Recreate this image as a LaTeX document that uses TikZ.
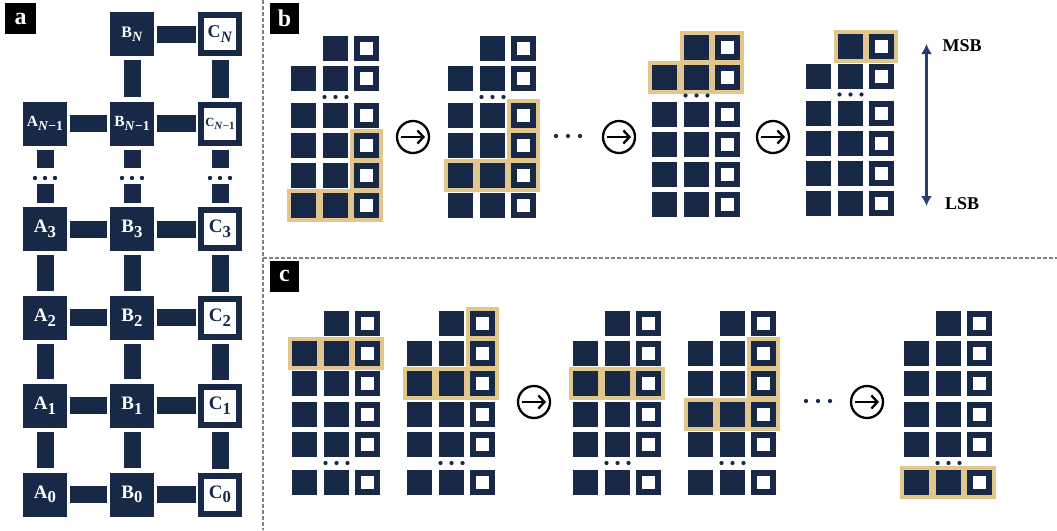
\documentclass[tikz,border=0pt]{standalone}
\usepackage{fontspec}
\setmainfont{Liberation Serif}
\usepackage{graphicx}
\usetikzlibrary{arrows.meta,fit,backgrounds}
\definecolor{navy}{RGB}{24,41,72}
\definecolor{goldH}{RGB}{224,198,140}
\definecolor{arrowB}{RGB}{38,62,108}
\definecolor{sepG}{RGB}{130,130,130}

% subscripts in panel a
\newcommand{\idx}[1]{\raisebox{-0.24em}{\scalebox{0.88}{#1}}}

% one register: cells #1-row-col, column 1 left edge #2, row 1 top #3
\newcommand{\regblock}[5]{%
  \foreach \r/\dy in #4 {
    \ifnum\r>1 \node[bitcell] (#1-\r-1) at (#2+12.5,#3+\dy+12.5) {};\fi
    \node[bitcell] (#1-\r-2) at (#2+44.5,#3+\dy+12.5) {};
    \node[carrycell] (#1-\r-3) at (#2+75.5,#3+\dy+12.5) {};
  }
  \foreach \k in {-11,0,11} \fill[navy] (#2+44.5+\k,#3+#5) circle (2.1pt);
}
\def\rowsb{1/0,2/30,3/67,4/97,5/127,6/157}
\def\rowsc{1/0,2/30,3/60,4/91,5/121,6/159}

\begin{document}
\begin{tikzpicture}[x=1pt, y=-1pt, >={Latex[length=10pt,width=11pt]}]
  \useasboundingbox (0,0) rectangle (1057,530);
  \tikzstyle{tag}=[fill=black, text=white, inner sep=0pt, minimum height=31pt, minimum width=29pt, font=\bfseries\fontsize{24}{24}\selectfont]
  \tikzstyle{qbox}=[fill=navy, text=white, minimum size=44pt, inner sep=0pt, font=\bfseries\fontsize{19}{19}\selectfont]
  \tikzstyle{cbox}=[draw=navy, fill=white, text=navy, line width=6pt, minimum size=38pt, inner sep=0pt, outer sep=3pt, font=\bfseries\fontsize{19}{19}\selectfont]
  \tikzstyle{hlink}=[draw=navy, line width=17pt, shorten <=2.5pt, shorten >=2.5pt]
  \tikzstyle{vlink}=[draw=navy, line width=17pt, shorten <=4pt, shorten >=4pt]
  \tikzstyle{bitcell}=[fill=navy, minimum size=25pt, inner sep=0pt, outer sep=0pt]
  \tikzstyle{carrycell}=[draw=navy, fill=white, line width=6pt, minimum size=19pt, inner sep=0pt, outer sep=3pt]
  \tikzstyle{hl}=[fill=goldH, inner sep=4pt]
  \tikzstyle{nextstep}=[circle, draw=black, line width=2.3pt, minimum size=32pt, inner sep=0pt,
    path picture={\draw[line width=2.3pt, -{Straight Barb[length=6pt,width=13pt]}]
      ([xshift=-12pt]path picture bounding box.center) -- ([xshift=12pt]path picture bounding box.center);}]
  \tikzstyle{sepline}=[draw=sepG, line width=1.3pt, dash pattern=on 4pt off 2pt]
  \tikzstyle{sb}=[font=\bfseries\fontsize{18}{18}\selectfont, inner sep=0pt]

  % separators
  \draw[sepline] (263,0) -- (263,530);
  \draw[sepline] (263,258) -- (1057,258);

  % panel a
  \node[tag, minimum width=31pt] (taga) at (20.5,18.5) {a};
  \node[qbox, font=\bfseries\fontsize{16}{16}\selectfont] (BN) at (132,34) {B\idx{\textit{N}}};
  \node[cbox, font=\bfseries\fontsize{18}{18}\selectfont] (CN) at (220,34) {C\idx{\textit{N}}};
  \node[qbox, font=\bfseries\fontsize{15.5}{16}\selectfont] (AN1) at (45,123.5) {A\idx{\textit{N}−1}};
  \node[qbox, font=\bfseries\fontsize{15.5}{16}\selectfont] (BN1) at (132,123.5) {B\idx{\textit{N}−1}};
  \node[cbox, font=\bfseries\fontsize{12.5}{13}\selectfont] (CN1) at (220,123.5) {C\idx{\textit{N}−1}};
  \draw[hlink] (BN) -- (CN);
  \draw[hlink] (AN1) -- (BN1);
  \draw[hlink] (BN1) -- (CN1);
  \draw[vlink] (BN) -- (BN1);
  \draw[vlink] (CN) -- (CN1);
  \foreach \i/\y in {3/229,2/317.5,1/405.5,0/494.5} {
    \node[qbox] (A\i) at (45,\y) {A\idx{\i}};
    \node[qbox] (B\i) at (132,\y) {B\idx{\i}};
    \node[cbox] (C\i) at (220,\y) {C\idx{\i}};
    \draw[hlink] (A\i) -- (B\i);
    \draw[hlink] (B\i) -- (C\i);
  }
  \foreach \col in {A,B,C} {
    \draw[vlink] (\col3) -- (\col2);
    \draw[vlink] (\col2) -- (\col1);
    \draw[vlink] (\col1) -- (\col0);
  }
  \foreach \col/\x in {A/45,B/132,C/220} {
    \coordinate (d\col) at (\x,178);
    \draw[vlink, shorten >=10pt] (\col N1) -- (d\col);
    \draw[vlink, shorten <=6pt] (d\col) -- (\col3);
    \foreach \k in {-10,0,10} \fill[navy] (\x+\k,178) circle (2.2pt);
  }

  % panel b
  \node[tag] (tagb) at (284.5,18.5) {b};
  \regblock{b1}{291}{36}{\rowsb}{61}
  \regblock{b2}{448}{36}{\rowsb}{61}
  \regblock{b3}{652}{34.5}{\rowsb}{61}
  \regblock{b4}{806}{33.5}{\rowsb}{61}
  \node[nextstep] (sb1) at (413,137) {};
  \node[nextstep] (sb2) at (619,137) {};
  \node[nextstep] (sb3) at (773,137) {};
  \foreach \k in {556,568,580} \fill[navy] (\k,136) circle (2.1pt);
  \node[sb] (msb) at (962,46) {MSB};
  \node[sb] (lsb) at (962,204) {LSB};
  \coordinate (msbtip) at (926.5,44);
  \coordinate (lsbtip) at (926.5,206);
  \draw[<->, arrowB, line width=2.8pt] (lsbtip) -- (msbtip);

  % panel c
  \node[tag] (tagc) at (284.5,276) {c};
  \regblock{c1}{292}{311}{\rowsc}{152}
  \regblock{c2}{407}{311}{\rowsc}{152}
  \regblock{c3}{573}{311}{\rowsc}{152}
  \regblock{c4}{688}{311}{\rowsc}{152}
  \regblock{c5}{904}{311}{\rowsc}{152}
  \node[nextstep] (sc1) at (534,402) {};
  \node[nextstep] (sc2) at (867,402) {};
  \foreach \k in {806,818,830} \fill[navy] (\k,401) circle (2.1pt);

  % highlighted bits
  \begin{scope}[on background layer]
    \node[hl, fit=(b1-4-3)(b1-6-3)] (hb1a) {};
    \node[hl, fit=(b1-6-1)(b1-6-3)] (hb1b) {};
    \node[hl, fit=(b2-3-3)(b2-5-3)] (hb2a) {};
    \node[hl, fit=(b2-5-1)(b2-5-3)] (hb2b) {};
    \node[hl, fit=(b3-1-2)(b3-2-3)] (hb3a) {};
    \node[hl, fit=(b3-2-1)(b3-2-3)] (hb3b) {};
    \node[hl, fit=(b4-1-2)(b4-1-3)] (hb4) {};
    \node[hl, fit=(c1-2-1)(c1-2-3)] (hc1) {};
    \node[hl, fit=(c2-1-3)(c2-3-3)] (hc2a) {};
    \node[hl, fit=(c2-3-1)(c2-3-3)] (hc2b) {};
    \node[hl, fit=(c3-3-1)(c3-3-3)] (hc3) {};
    \node[hl, fit=(c4-2-3)(c4-4-3)] (hc4a) {};
    \node[hl, fit=(c4-4-1)(c4-4-3)] (hc4b) {};
    \node[hl, fit=(c5-6-1)(c5-6-3)] (hc5) {};
  \end{scope}
\end{tikzpicture}
\end{document}
